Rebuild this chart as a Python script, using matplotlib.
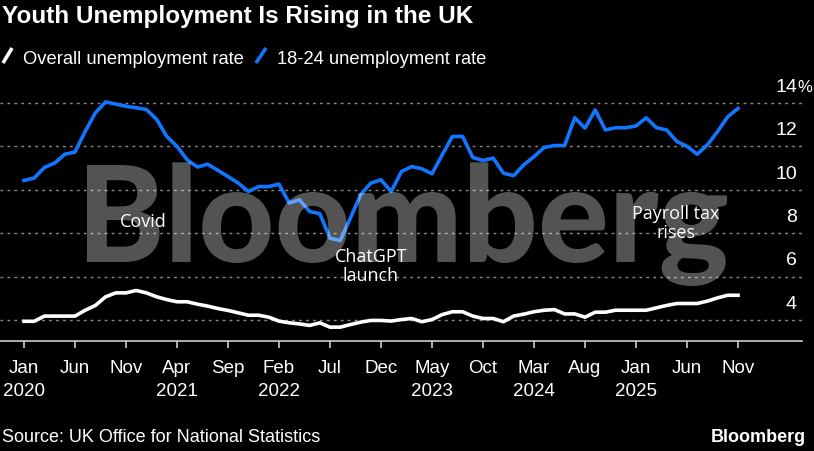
import numpy as np
import matplotlib
matplotlib.use("Agg")
import matplotlib.pyplot as plt
from matplotlib.patches import PathPatch
from matplotlib.textpath import TextPath
from matplotlib.font_manager import FontProperties, fontManager
from matplotlib.transforms import Affine2D
from matplotlib.lines import Line2D

# monthly data, Jan 2020 .. Nov 2025
months = np.arange(71)
overall = [3.94, 3.94, 4.18, 4.18, 4.18, 4.18, 4.45, 4.67, 5.07, 5.25,
           5.25, 5.36, 5.25, 5.07, 4.94, 4.84, 4.84, 4.73, 4.64, 4.53,
           4.44, 4.33, 4.22, 4.22, 4.13, 3.95, 3.87, 3.82, 3.75, 3.87,
           3.67, 3.67, 3.79, 3.90, 3.98, 3.98, 3.95, 4.02, 4.07, 3.92,
           4.02, 4.25, 4.38, 4.38, 4.18, 4.07, 4.07, 3.92, 4.18, 4.27,
           4.38, 4.45, 4.48, 4.28, 4.28, 4.13, 4.36, 4.36, 4.45, 4.45,
           4.45, 4.45, 4.56, 4.67, 4.76, 4.76, 4.76, 4.87, 5.02, 5.14,
           5.14]
youth = [10.43, 10.54, 11.03, 11.23, 11.64, 11.74, 12.69, 13.55, 14.05, 13.95,
         13.85, 13.78, 13.70, 13.25, 12.46, 12.00, 11.38, 11.05, 11.18, 10.90,
         10.61, 10.31, 9.92, 10.15, 10.15, 10.26, 9.39, 9.54, 9.00, 8.90,
         7.77, 7.66, 8.70, 9.77, 10.31, 10.46, 9.92, 10.84, 11.07, 10.97,
         10.74, 11.61, 12.46, 12.46, 11.49, 11.35, 11.46, 10.77, 10.65, 11.15,
         11.53, 11.95, 12.04, 12.04, 13.32, 12.84, 13.68, 12.76, 12.86, 12.86,
         12.94, 13.32, 12.86, 12.76, 12.23, 12.00, 11.64, 12.07, 12.69, 13.37,
         13.75]
tick_pos = list(range(0, 71, 5))
tick_labels = ["Jan\n2020", "Jun", "Nov", "Apr\n2021", "Sep", "Feb\n2022", "Jul",
               "Dec", "May\n2023", "Oct", "Mar\n2024", "Aug", "Jan\n2025", "Jun", "Nov"]
yticks = [4, 6, 8, 10, 12, 14]
notes = ["Covid", "ChatGPT\nlaunch", "Payroll tax\nrises"]
note_x = [11.7, 34.0, 63.9]
note_y = [8.5, 6.45, 8.45]

names = {f.name for f in fontManager.ttflist}
sans = "Liberation Sans" if "Liberation Sans" in names else "DejaVu Sans"
note_font = "Open Sans" if "Open Sans" in names else "DejaVu Sans"
heavy = [f for f in fontManager.ttflist if f.name == "Lato" and f.weight in (900, "black", "heavy")]
if heavy:
    wm_prop = FontProperties(fname=heavy[0].fname)
else:
    wm_prop = FontProperties(family=sans, weight="bold")

BLUE = "#1076ff"
W, H = 814, 451

fig = plt.figure(figsize=(W / 100, H / 100), dpi=100, facecolor="black")
ax = fig.add_axes([0, (H - 341) / H, 802 / W, (341 - 95) / H])
ax.set_facecolor("black")

ax.plot(months, youth, color=BLUE, lw=2.6, solid_joinstyle="round", zorder=3)
ax.plot(months, overall, color="white", lw=2.6, solid_joinstyle="round", zorder=3)

ax.set_xlim(-24 / 10.2, (802 - 24) / 10.2)
ax.set_ylim(4 - 21 / 21.7, 4 + 225 / 21.7)

for v in yticks:
    ax.axhline(v, color="#8a8a8a", lw=1.0, ls=(0, (2, 3)), zorder=1)
    ax.annotate(str(v), xy=(797 / 802, v), xycoords=("axes fraction", "data"),
                xytext=(0, 8), textcoords="offset points", ha="right", va="baseline",
                color="white", fontsize=14, family=sans, annotation_clip=False)
    if v == 14:
        ax.annotate("%", xy=(797 / 802, v), xycoords=("axes fraction", "data"),
                    xytext=(0, 8), textcoords="offset points", ha="left", va="baseline",
                    color="white", fontsize=12, family=sans, annotation_clip=False)

ax.set_yticks([])
for s in ["left", "right", "top"]:
    ax.spines[s].set_visible(False)
ax.spines["bottom"].set_color("#cccccc")
ax.spines["bottom"].set_linewidth(1.2)
ax.set_xticks(tick_pos)
ax.set_xticklabels(tick_labels, color="white", fontsize=13.5, family=sans,
                   linespacing=1.45)
ax.tick_params(axis="x", colors="#cccccc", length=5, width=1.2, pad=9, labelcolor="white")

for t, x, y in zip(notes, note_x, note_y):
    ax.text(x, y, t, ha="center", va="center", color="white", fontsize=13,
            family=note_font, linespacing=1.05, zorder=4)

# title, legend, footer
fig.text(2 / W, 1 - 17 / H, "Youth Unemployment Is Rising in the UK", color="white",
         fontsize=17.5, fontweight="bold", family=sans, va="center", ha="left")
for (x0, x1), c in [((3, 12), "white"), ((256, 266), BLUE)]:
    fig.add_artist(Line2D([x0 / W, x1 / W], [1 - 63 / H, 1 - 48 / H], color=c, lw=2.6,
                          transform=fig.transFigure, solid_capstyle="butt"))
fig.text(23 / W, 1 - 64 / H, "Overall unemployment rate", color="white", fontsize=13.2,
         family=sans, va="baseline", ha="left")
fig.text(277 / W, 1 - 64 / H, "18-24 unemployment rate", color="white", fontsize=13.2,
         family=sans, va="baseline", ha="left")
fig.text(2 / W, 1 - 438 / H, "Source: UK Office for National Statistics", color="white",
         fontsize=13, family=sans, va="center", ha="left")
fig.text(806 / W, 1 - 437 / H, "Bloomberg", color="white", fontsize=13, fontweight="bold",
         family=sans, va="center", ha="right")

# translucent watermark on top
wm = TextPath((0, 0), "Bloomberg", size=100, prop=wm_prop)
ext = wm.get_extents()
capb = TextPath((0, 0), "B", size=100, prop=wm_prop).get_extents()
sx = (727 - 87) / ext.width
sy = (262 - 165) / capb.height
tr = Affine2D().scale(sx, sy).translate(87 - ext.x0 * sx, H - 262)
fig.add_artist(PathPatch(wm, transform=tr, facecolor="white", edgecolor="none",
                         alpha=0.33, zorder=10))

fig.savefig("out.png", dpi=100, facecolor="black")
